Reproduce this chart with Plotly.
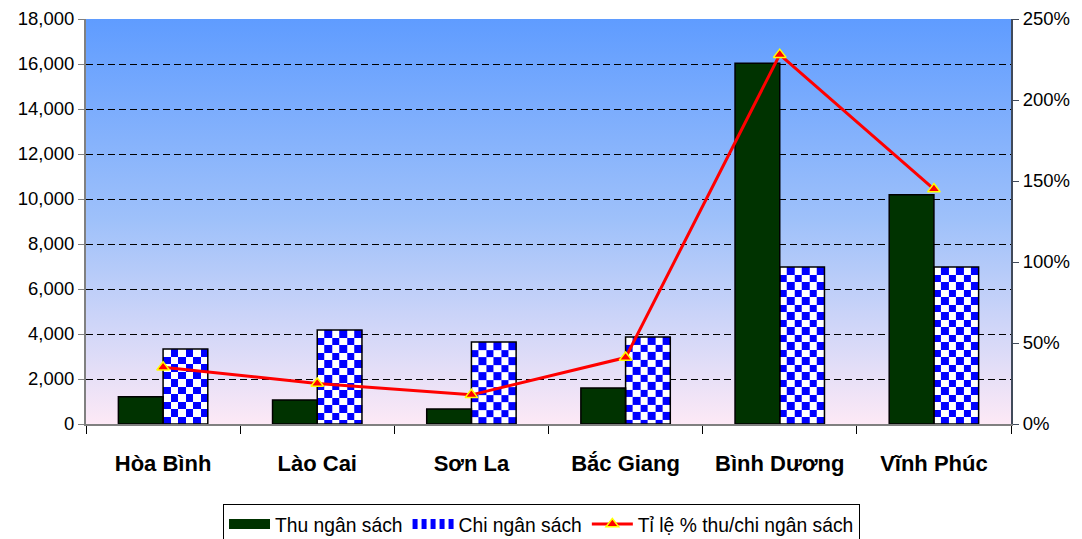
import base64
import plotly.graph_objects as go

# Budget revenue / expenditure by province (billion VND) and revenue-to-spending ratio
provinces = ["Hòa Bình", "Lào Cai", "Sơn La", "Bắc Giang", "Bình Dương", "Vĩnh Phúc"]
thu_ngan_sach = [1210, 1070, 670, 1600, 16030, 10190]
chi_ngan_sach = [3330, 4180, 3640, 3870, 6980, 6980]
ti_le = [0.35, 0.25, 0.18, 0.41, 2.28, 1.45]

left_ticks = list(range(0, 18001, 2000))
right_ticks = [0, 0.5, 1.0, 1.5, 2.0, 2.5]

# Frame geometry (pixels)
W, H = 1082, 539
M_L, M_R, M_T, M_B = 86, 71, 19, 115
PLOT_W = W - M_L - M_R
PLOT_H = H - M_T - M_B
Y_MAX = 18000
BAR_W = 0.29          # bar width in category units
CHECK_COLS = 6        # checker columns across one bar
CHECK_PX = 7.5        # checker square size in pixels
CHECK_Y = CHECK_PX * Y_MAX / PLOT_H

FONT = "Liberation Sans, Arial, sans-serif"
idx = list(range(len(provinces)))

fig = go.Figure()

# Checkerboard fill for the spending bars (heatmap bricks under the bar outlines)
for i, v in zip(idx, chi_ngan_sach):
    xs = [i + k * BAR_W / CHECK_COLS for k in range(CHECK_COLS + 1)]
    tops = []
    y = v
    while y > 1e-6:
        tops.append(y)
        y -= CHECK_Y
    edges = [0] + tops[::-1]
    nrows = len(edges) - 1
    z = [[((nrows - 1 - r) + c) % 2 for c in range(CHECK_COLS)] for r in range(nrows)]
    fig.add_trace(go.Heatmap(
        x=xs, y=edges, z=z, zmin=0, zmax=1,
        colorscale=[[0, "#ffffff"], [1, "#0000ff"]],
        showscale=False, hoverinfo="skip", showlegend=False,
    ))

fig.add_trace(go.Bar(
    x=idx, y=thu_ngan_sach, width=BAR_W, offset=-BAR_W,
    marker=dict(color="#003300", line=dict(color="#000000", width=1.5)),
    showlegend=False, name="Thu ngân sách",
))
fig.add_trace(go.Bar(
    x=idx, y=chi_ngan_sach, width=BAR_W, offset=0,
    marker=dict(color="rgba(0,0,0,0)", line=dict(color="#000000", width=1.5)),
    showlegend=False, name="Chi ngân sách",
))

# Legend keys drawn as wide swatches
fig.add_trace(go.Scatter(
    x=[None], y=[None], mode="lines", name="Thu ngân sách",
    line=dict(color="#003300", width=12),
))
fig.add_trace(go.Scatter(
    x=[None], y=[None], mode="lines", name="Chi ngân sách",
    line=dict(color="#0000ff", width=10, dash="5px,4px"),
))

fig.add_trace(go.Scatter(
    x=idx, y=ti_le, yaxis="y2", mode="lines+markers",
    name="Tỉ lệ % thu/chi ngân sách",
    line=dict(color="#ff0000", width=3),
    marker=dict(symbol="triangle-up", size=11, color="#ff0000",
                line=dict(color="#ffff00", width=1.5)),
))

grad_svg = (
    "<svg xmlns='http://www.w3.org/2000/svg' width='100' height='100' "
    "viewBox='0 0 100 100' preserveAspectRatio='none'>"
    "<defs><linearGradient id='g' x1='0' y1='0' x2='0' y2='1'>"
    "<stop offset='0' stop-color='#5f9cff'/>"
    "<stop offset='0.5' stop-color='#9fc1fa'/>"
    "<stop offset='1' stop-color='#fde9f6'/>"
    "</linearGradient></defs>"
    "<rect width='100' height='100' fill='url(#g)'/></svg>"
)
grad_src = "data:image/svg+xml;base64," + base64.b64encode(grad_svg.encode()).decode()

fig.update_layout(
    width=W, height=H,
    margin=dict(l=M_L, r=M_R, t=M_T, b=M_B, pad=0, autoexpand=False),
    paper_bgcolor="#ffffff", plot_bgcolor="#ffffff",
    barmode="overlay",
    font=dict(family=FONT, color="#000000", size=18),
    images=[dict(source=grad_src, xref="paper", yref="paper", x=0, y=1,
                 sizex=1, sizey=1, xanchor="left", yanchor="top",
                 sizing="stretch", layer="below")],
    xaxis=dict(
        range=[-0.5, len(provinces) - 0.5], automargin=False,
        tickmode="array", tickvals=idx, ticktext=provinces,
        ticks="", showgrid=False, zeroline=False,
        tickfont=dict(family=FONT, size=22, color="#000000", weight="bold"),
        ticklabelstandoff=19,
        showline=True, linecolor="#808080", linewidth=2,
        minor=dict(tickmode="array",
                   tickvals=[i - 0.5 for i in range(len(provinces) + 1)],
                   ticks="outside", ticklen=8, tickcolor="#000000",
                   tickwidth=1, showgrid=False),
    ),
    yaxis=dict(
        range=[0, Y_MAX], tickmode="array", tickvals=left_ticks, automargin=False,
        tickformat=",d", ticks="outside", ticklen=6, tickcolor="#808080",
        tickfont=dict(size=18.5),
        showgrid=True, gridcolor="#000000", gridwidth=1, griddash="7px,4px",
        zeroline=False, showline=True, linecolor="#808080", linewidth=2,
    ),
    yaxis2=dict(
        overlaying="y", side="right", range=[0, 2.5], automargin=False,
        tickmode="array", tickvals=right_ticks, tickformat=".0%",
        ticks="outside", ticklen=6, tickcolor="#404a5a",
        tickfont=dict(size=18.5),
        showgrid=False, zeroline=False,
        showline=True, linecolor="#404a5a", linewidth=2,
    ),
    legend=dict(
        orientation="h", xref="container", yref="container",
        x=223 / W, xanchor="left", y=1 - 504 / H, yanchor="top",
        bordercolor="#000000", borderwidth=1, bgcolor="#ffffff",
        font=dict(family=FONT, size=19.3, color="#000000"),
        itemwidth=41, tracegroupgap=0,
    ),
    showlegend=True,
)

fig.write_html("out.html")
